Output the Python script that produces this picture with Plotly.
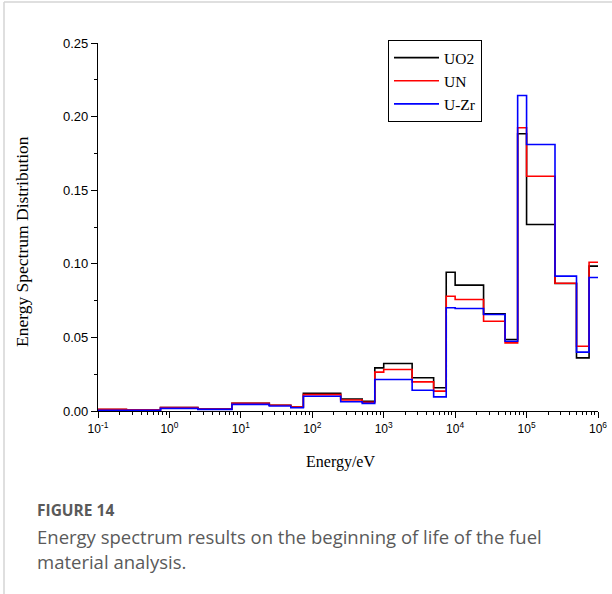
import plotly.graph_objects as go

# limites dos grupos de energia (eV) e distribuicao por grupo
energy_edges = [0.1, 0.25, 0.75, 2.5, 7.5, 25, 50, 75, 250, 500, 750, 1000,
                2500, 5000, 7500, 1e4, 2.5e4, 5e4, 7.5e4, 1e5, 2.5e5, 5e5, 7.5e5, 1e6]

uo2 = [0.0010, 0.0007, 0.0023, 0.0013, 0.0052, 0.0039, 0.0027, 0.0120, 0.0082, 0.0066,
       0.0293, 0.0323, 0.0226, 0.0158, 0.0943, 0.0855, 0.0660, 0.0486, 0.1883, 0.1267,
       0.0866, 0.0361, 0.0984]
un = [0.0011, 0.0008, 0.0024, 0.0014, 0.0052, 0.0039, 0.0027, 0.0111, 0.0075, 0.0059,
      0.0264, 0.0282, 0.0198, 0.0135, 0.0780, 0.0757, 0.0610, 0.0463, 0.1924, 0.1595,
      0.0868, 0.0440, 0.1011]
u_zr = [0.0005, 0.0005, 0.0018, 0.0011, 0.0045, 0.0034, 0.0022, 0.0100, 0.0063, 0.0052,
        0.0214, 0.0214, 0.0141, 0.0096, 0.0701, 0.0696, 0.0656, 0.0474, 0.2143, 0.1810,
        0.0916, 0.0400, 0.0907]

series_names = ["UO2", "UN", "U-Zr"]
series_colors = ["#000000", "#ff0000", "#0000ff"]

x_tickvals = [0.1, 1, 10, 100, 1000, 1e4, 1e5, 1e6]
x_ticktext = ["10<sup>-1</sup>", "10<sup>0</sup>", "10<sup>1</sup>", "10<sup>2</sup>",
              "10<sup>3</sup>", "10<sup>4</sup>", "10<sup>5</sup>", "10<sup>6</sup>"]
y_tickvals = [0.00, 0.05, 0.10, 0.15, 0.20, 0.25]

# geometria da figura (px)
W, H = 612, 594
L, R, T, B = 98, 14, 43, 183
PW, PH = W - L - R, H - T - B


def px(x):
    return (x - L) / PW


def py(y):
    return (H - B - y) / PH


fig = go.Figure()
for name, vals, color in zip(series_names, [uo2, un, u_zr], series_colors):
    fig.add_trace(go.Scatter(x=energy_edges, y=vals + [vals[-1]], mode="lines",
                             line=dict(shape="hv", color=color, width=1.6),
                             name=name))

fig.update_layout(
    width=W, height=H,
    margin=dict(l=L, r=R, t=T, b=B, autoexpand=False),
    paper_bgcolor="white", plot_bgcolor="white",
    font=dict(family="Liberation Sans, Arial", color="#000000", size=12),
    showlegend=True,
    legend=dict(x=px(388), y=py(40), xanchor="left", yanchor="top",
                bordercolor="#000000", borderwidth=1, bgcolor="white",
                font=dict(family="Liberation Serif, Times New Roman", size=15.5),
                tracegroupgap=0, itemwidth=45),
)

fig.update_xaxes(type="log", range=[-1, 6], showgrid=False, zeroline=False,
                 automargin=False, ticklabeloverflow="allow",
                 showline=True, linecolor="#000000", linewidth=1.3,
                 ticks="outside", ticklen=6, tickwidth=1.2, tickcolor="#000000",
                 tickvals=x_tickvals, ticktext=x_ticktext,
                 tickfont=dict(size=12),
                 minor=dict(ticks="outside", ticklen=3, tickwidth=1, tickcolor="#000000",
                            dtick="D1", showgrid=False))
fig.update_yaxes(range=[0, 0.25], showgrid=False, zeroline=False, automargin=False,
                 showline=True, linecolor="#000000", linewidth=1.3,
                 ticks="outside", ticklen=6, tickwidth=1.2, tickcolor="#000000",
                 tickvals=y_tickvals, tickformat=".2f", tickfont=dict(size=13),
                 minor=dict(ticks="outside", ticklen=3, tickwidth=1, tickcolor="#000000",
                            dtick=0.025, showgrid=False))

# titulos dos eixos
fig.add_annotation(text="Energy/eV", x=px(340), y=py(462), xref="paper", yref="paper",
                   xanchor="center", yanchor="middle", showarrow=False,
                   font=dict(family="Liberation Serif, Times New Roman", size=16))
fig.add_annotation(text="Energy Spectrum Distribution", x=px(22), y=py(242),
                   xref="paper", yref="paper", xanchor="center", yanchor="middle",
                   showarrow=False, textangle=-90,
                   font=dict(family="Liberation Serif, Times New Roman", size=17.5))

# legenda da figura
cap_color = "#5a5a5a"
fig.add_annotation(text="<b>FIGURE 14</b>", x=px(35), y=py(510), xref="paper", yref="paper",
                   xanchor="left", yanchor="middle", showarrow=False,
                   font=dict(family="Open Sans", size=15.5, color=cap_color))
fig.add_annotation(text="Energy spectrum results on the beginning of life of the fuel",
                   x=px(35), y=py(536), xref="paper", yref="paper", xanchor="left",
                   yanchor="middle", showarrow=False,
                   font=dict(family="Open Sans", size=18.5, color=cap_color))
fig.add_annotation(text="material analysis.", x=px(35), y=py(561), xref="paper", yref="paper",
                   xanchor="left", yanchor="middle", showarrow=False,
                   font=dict(family="Open Sans", size=18.5, color=cap_color))

# borda do cartao
fig.add_shape(type="line", x0=px(4), x1=px(612), y0=py(2), y1=py(2), xref="paper", yref="paper",
              line=dict(color="#d4d4d4", width=1.5))
fig.add_shape(type="line", x0=px(4), x1=px(4), y0=py(2), y1=py(594), xref="paper", yref="paper",
              line=dict(color="#d4d4d4", width=1.5))

# tirar a margem padrao do body para a figura ficar em (0,0)
fig.write_html("out.html", config={"displayModeBar": False},
               post_script="document.body.style.margin='0';")
